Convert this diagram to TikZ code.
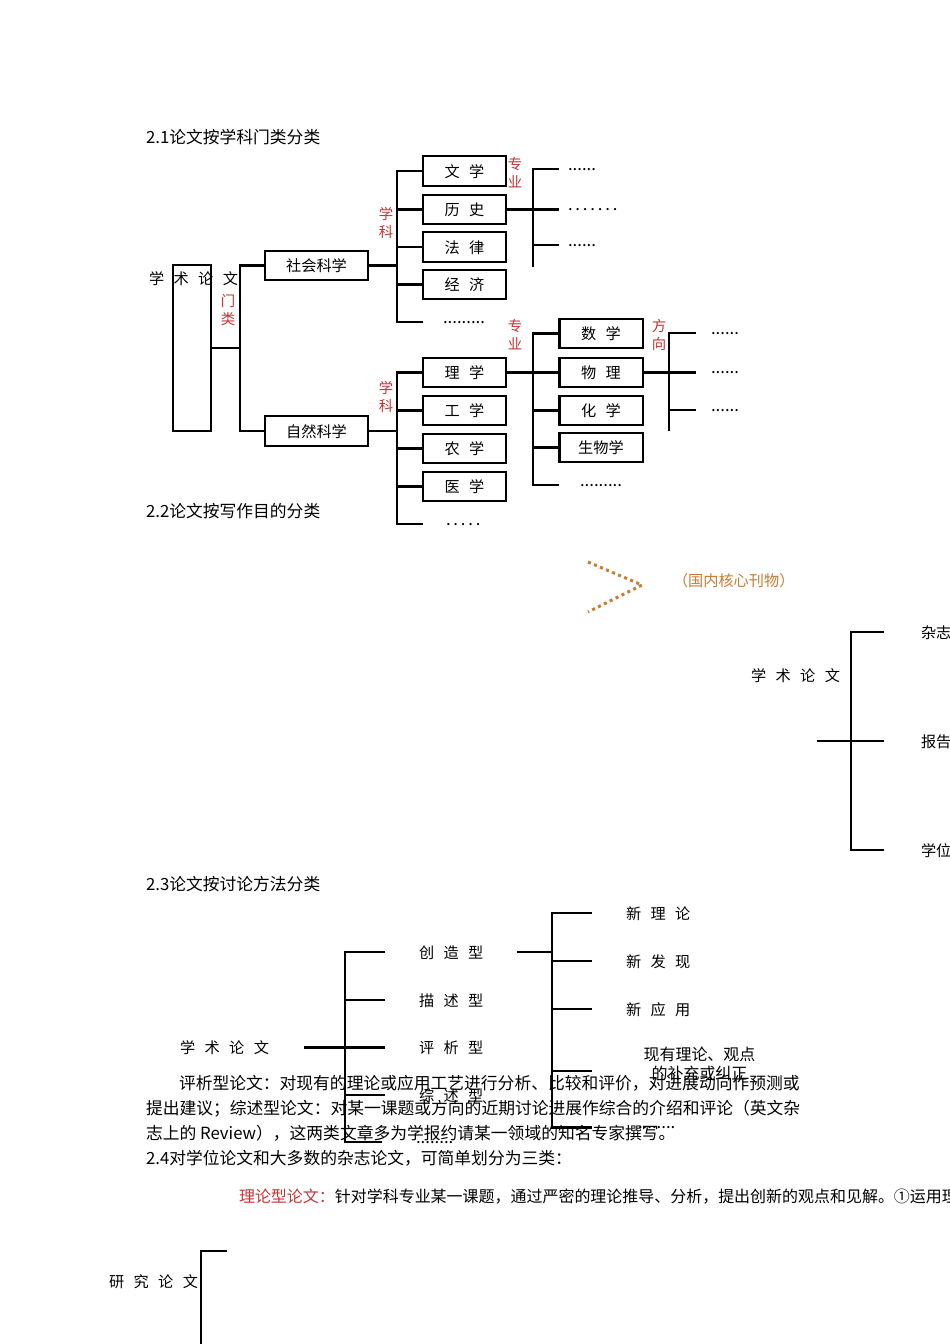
\documentclass[tikz,border=0pt]{standalone}
\usepackage{fontspec}
\setmainfont{Noto Sans CJK SC}
\usetikzlibrary{positioning}
\definecolor{keRed}{RGB}{196,52,52}
\definecolor{kanOrange}{RGB}{200,124,52}
\newcommand{\jg}{\hspace{0.62em}}

\begin{document}
\begin{tikzpicture}[x=0.626pt,y=-0.626pt,line width=1.3pt,
  txt/.style={anchor=west,inner sep=0pt,text height=0.88em,text depth=0.12em,font=\fontsize{10.5}{13}\selectfont},
  lbl/.style={anchor=west,inner sep=0pt,text height=0.88em,text depth=0.12em,font=\fontsize{9.5}{11}\selectfont},
  hong/.style={inner sep=0pt,align=center,text=keRed,font=\fontsize{9}{11.3}\selectfont},
  dian/.style={anchor=west,inner sep=0pt,text height=0.15em,text depth=0pt,font=\fontsize{10.5}{13}\selectfont}]
  \tikzset{kx/.style={draw,inner sep=0pt,minimum width=52pt,minimum height=18.5pt,text height=0.88em,text depth=0.12em,font=\fontsize{9.5}{11}\selectfont},
    kxw/.style={kx,minimum width=64.4pt}}
  \useasboundingbox[fill=white] (0,0) rectangle (950,1344);

  \node[txt] (t21) at (145,137) {2.1论文按学科门类分类};
  \node[draw,inner sep=0pt,minimum width=23.7pt,minimum height=103.9pt] (root) at (192,348) {};
  \node[lbl] (xslw1) at (148,278) {学\jg 术\jg 论\jg 文};
  \node[hong] (ml) at (228,310) {门\\类};
  \coordinate (jM) at (240,348);
  \node[kxw] (shkx) at (316.5,265.5) {社会科学};
  \node[kxw] (zrkx) at (316.5,431) {自然科学};
  \draw (root.east) -- (jM);
  \foreach \n in {shkx,zrkx} \draw (\n.west) -| (jM);

  \node[hong] (xk1) at (386,223) {学\\科};
  \coordinate (jS) at (397,265.5);
  \node[kx] (wx) at (464.5,171) {文\jg 学};
  \node[kx] (ls) at (464.5,209.5) {历\jg 史};
  \node[kx] (fl) at (464.5,247) {法\jg 律};
  \node[kx] (jj) at (464.5,284.5) {经\jg 济};
  \node[dian] (d2) at (442,322) {.........};
  \draw (shkx.east) -- (jS);
  \foreach \n in {wx,ls,fl,jj} \draw (\n.west) -| (jS);
  \draw[shorten <=12pt] (d2.west) -| (jS);

  \node[hong] (zy1) at (515,173) {专\\业};
  \coordinate (jD) at (533,209.5);
  \coordinate (jDe) at (533,267);
  \node[dian] (d11) at (567,169) {......};
  \node[dian] (d12) at (567,209.5) {.\,.\,.\,.\,.\,.\,.};
  \node[dian] (d13) at (567,245) {......};
  \draw (ls.east) -- (jD) -- (jDe);
  \foreach \n in {d11,d12,d13} \draw[shorten <=5pt] (\n.west) -| (jD);

  \node[hong] (xk2) at (386,397) {学\\科};
  \coordinate (jZ) at (397,431);
  \node[kx] (lx) at (464.5,372.5) {理\jg 学};
  \node[kx] (gx) at (464.5,410.5) {工\jg 学};
  \node[kx] (nx) at (464.5,448.5) {农\jg 学};
  \node[kx] (yx) at (464.5,486.5) {医\jg 学};
  \node[dian] (d3) at (445,524) {.\,.\,.\,.\,.};
  \draw (zrkx.east) -- (jZ);
  \foreach \n in {lx,gx,nx,yx} \draw (\n.west) -| (jZ);
  \draw[shorten <=14pt] (d3.west) -| (jZ);

  \node[hong] (zy2) at (515,335) {专\\业};
  \coordinate (jL) at (533,372.5);
  \node[kx] (sx) at (601,333.5) {数\jg 学};
  \node[kx] (wl) at (601,372.5) {物\jg 理};
  \node[kx] (hx) at (601,410.5) {化\jg 学};
  \node[kx] (swx) at (601,447.5) {生物学};
  \node[dian] (d4) at (579,485) {.........};
  \draw (lx.east) -- (jL);
  \foreach \n in {sx,wl,hx,swx} \draw (\n.west) -| (jL);
  \draw[shorten <=12.5pt] (d4.west) -| (jL);

  \node[hong] (fx) at (659,335) {方\\向};
  \coordinate (jW) at (669,372.5);
  \coordinate (jWe) at (669,431);
  \node[dian] (d51) at (710,333) {......};
  \node[dian] (d52) at (710,372.5) {......};
  \node[dian] (d53) at (710,410) {......};
  \draw (wl.east) -- (jW) -- (jWe);
  \foreach \n in {d51,d52,d53} \draw[shorten <=8.8pt] (\n.west) -| (jW);

  \node[txt] (t22) at (145,511) {2.2论文按写作目的分类};
  \draw[kanOrange,line width=1.9pt,dash pattern=on 1.9pt off 2.2pt] (588,562) -- (642,585) -- (588,612);
  \node[lbl,text=kanOrange] (hx2) at (672,580) {（国内核心刊物）};
  \node[lbl] (xslw2) at (750,675) {学\jg 术\jg 论\jg 文};
  \coordinate (qk) at (817,741);
  \coordinate (jK) at (851,741);
  \node[lbl] (zz) at (920,632) {杂志};
  \node[lbl] (bg) at (920,741) {报告};
  \node[lbl] (xw) at (920,850) {学位};
  \draw (qk) -- (jK);
  \foreach \n in {zz,bg,xw} \draw[shorten <=22.5pt] (\n.west) -| (jK);

  \node[txt] (t23) at (145,884) {2.3论文按讨论方法分类};
  \node[lbl] (xslw3) at (179,1047.5) {学\jg 术\jg 论\jg 文};
  \coordinate (j3) at (345,1047.5);
  \node[lbl] (czx) at (418,952) {创\jg 造\jg 型};
  \node[lbl] (msx) at (418,1000) {描\jg 述\jg 型};
  \node[lbl] (pxx) at (418,1047.5) {评\jg 析\jg 型};
  \node[lbl] (zsx) at (418,1095) {综\jg 述\jg 型};
  \node[dian] (d6) at (415,1142) {........};
  \draw[shorten <=21pt] (xslw3.east) -- (j3);
  \foreach \n in {czx,msx,pxx,zsx,d6} \draw[shorten <=20.5pt] (\n.west) -| (j3);

  \coordinate (jR) at (552,952);
  \node[lbl] (xll) at (625,913) {新\jg 理\jg 论};
  \node[lbl] (xfx) at (625,961) {新\jg 发\jg 现};
  \node[lbl] (xyy) at (625,1009) {新\jg 应\jg 用};
  \node[align=center,inner sep=0pt,font=\fontsize{10}{11.9}\selectfont] (xyll) at (699.5,1064) {现有理论、观点\\的补充或纠正};
  \coordinate (b4) at (592,1071);
  \node[dian] (d7) at (637,1127.5) {........};
  \draw[shorten <=20.7pt] (czx.east) -- (jR);
  \foreach \n in {xll,xfx,xyy} \draw[shorten <=20.7pt] (\n.west) -| (jR);
  \draw (b4) -| (jR);
  \draw[shorten <=28pt] (d7.west) -| (jR);

  \node[txt] (p1) at (178,1083) {评析型论文：对现有的理论或应用工艺进行分析、比较和评价，对进展动向作预测或};
  \node[txt] (p2) at (145,1108) {提出建议；综述型论文：对某一课题或方向的近期讨论进展作综合的介绍和评论（英文杂};
  \node[txt] (p3) at (145,1133) {志上的 Review），这两类文章多为学报约请某一领域的知名专家撰写。};
  \node[txt] (t24) at (145,1158) {2.4对学位论文和大多数的杂志论文，可简单划分为三类：};
  \node[txt,font=\fontsize{10}{12}\selectfont] (llx) at (238,1196) {\textcolor{keRed}{理论型论文：}针对学科专业某一课题，通过严密的理论推导、分析，提出创新的观点和见解。①运用理};

  \node[lbl] (yjlw) at (108,1281) {研\jg 究\jg 论\jg 文};
  \coordinate (j5t) at (227,1251);
  \coordinate (j5b) at (201,1350);
  \draw (j5t) -| (j5b);
\end{tikzpicture}
\end{document}
